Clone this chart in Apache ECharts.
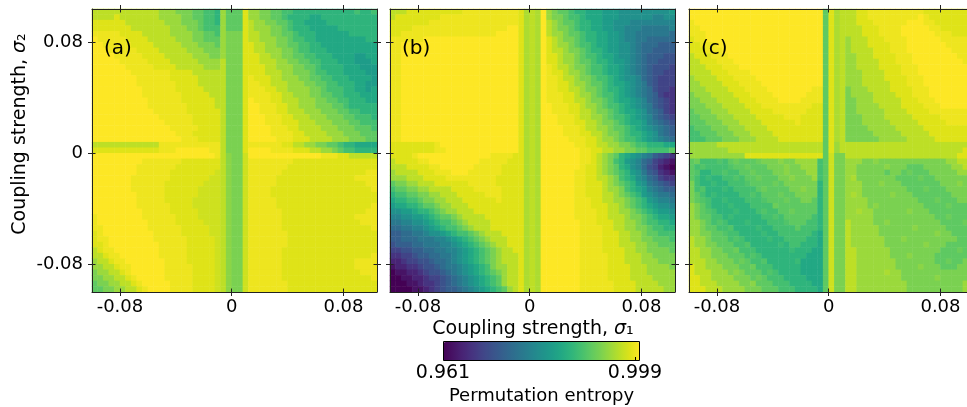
<!DOCTYPE html>
<html><head><meta charset="utf-8">
<script src="https://cdn.jsdelivr.net/npm/echarts@6/dist/echarts.min.js"></script>
<style>html,body{margin:0;padding:0;background:#fff}#chart{width:967px;height:407px}</style>
</head><body><div id="chart"></div>
<script>
// lower-edge value of each of the 51 cells (sigma step 0.004)
const sigmaCells = [-0.100,-0.096,-0.092,-0.088,-0.084,-0.080,-0.076,-0.072,-0.068,-0.064,-0.060,-0.056,-0.052,-0.048,-0.044,-0.040,-0.036,-0.032,-0.028,-0.024,-0.020,-0.016,-0.012,-0.008,-0.004,0.000,0.004,0.008,0.012,0.016,0.020,0.024,0.028,0.032,0.036,0.040,0.044,0.048,0.052,0.056,0.060,0.064,0.068,0.072,0.076,0.080,0.084,0.088,0.092,0.096,0.100];
const tickValues = [-0.08, 0, 0.08];
const colorMin = 0.961, colorMax = 1.0;
const colorbarTicks = ['0.961', '0.999'];
const panelLabels = ['(a)', '(b)', '(c)'];
// Permutation-entropy level per cell.
// letter A..U = 0.961 + 0.039*(i/20); lower case = half a step higher. Rows top (sigma2=0.1) to bottom.
const panelA = [
"SSSSS SSSSS SSRRR QQQPP OON RPPPT RRQQP POONN NNNNN NNNNO NNO",
"SSSST SSSSS SSRRR RQQPP OON RPPPT RRQQP PONNN NMMNN NNNNN NNN",
"TTTTT TSSSS SSSRR RQQQP OON RPPPT SRRQQ PPONN MMMMN NNNNN NNN",
"TTTTT TTSSS SSSSR RRQQP OOO RPPPT SRRRQ QPONN NMMMM MNNNN NNN",
"ttttt TTTTS SSSSR RRRQQ PPO RQQQT SSRRQ QPPON NNMMM MMMNN NNN",
"Utttt tTTTT SSSSS RRRQQ PPP RQQQT SSRRR QQPOO NNMMM MMMMM MNN",
"UUttt ttTTT TSSSS SRRRQ QQP RQQQT TSSRR QQPPO ONNMM MMMMM MMM",
"UUUtt tttTT TTSSS SSRRR QQQ RQQQT TSSRR RQQPO ONNNM MMMMM MMM",
"UUUUt ttttT TTTSS SSSRR RQQ RQQQT TTSSR RQQPP OONNN MMMML LMM",
"UUUUU ttttt TTTTS SSSSR RRR SQQQT TTSSS RRQQP POONN NMMML LLM",
"UUUUU Utttt tTTTT SSSSS RRR SQQQT TTTSS RRRQQ PPONN NNMMM LLL",
"UUUUU UUttt ttttT TTTSS SSS SQQQT TTTSS SRRQQ QPOON NNMMM MLL",
"UUUUU UUUtt ttttT TTTTS SSS SQQQT tTTTS SRRRQ QPPOO NNNMM MML",
"UUUUU UUUtt ttttt TTTTS SSS SQQQT ttTTS SSRRR QQPPO ONNNM MLL",
"UUUUU UUUUt ttttt TTTTT SSS SQQQT tttTT SSRRR RQQPO OONNM MLM",
"UUUUU UUUUt ttttt tTTTT TSS SQQQT ttttT TSSRR RQQPP OONNN MMM",
"UUUUU UUUUU ttttt tTTTT TTS SQQQT UtttT TSSSR RRQQP POONN NMM",
"UUUUU UUUUU ttttt ttTTT TTS SQQQT UUttt TTSSR RRQQQ PPONN NNN",
"UUUUU UUUUU Utttt ttTTT TTT SQQQT UUttt TTSSS RRRQQ QPPOO NNN",
"UUUUU UUUUU UUttt tttTT TTT SQQQT UUUtt tTTSS SRRRQ QQPPO OON",
"UUUUU UUUUU UUUtt tttTT TTT SQQQT UUUtt tTTTS SSRRR QQQPP OOO",
"UUUUU UUUUU UUUUt ttttT TTT SQQQT UUUUt ttTTS SSSRR RQQQP PPO",
"UUUUU UUUUU UUUUU tttTT TTT SQQQT UUUUt tttTT SSSSR RRQQQ PPP",
"UUUUU UUUUU UUUUU UtttT TTT SQQQT UUUUU tttTT TSSSS RRRQQ QPP",
"SSSSS SSSSS SSttt ttttt ttt SQQQT ttttt tTTSS RRQQP PONNM MMM",
"TTTTT TTTTT TTttt UUUUU Utt SQQQT UUUUt tttTT TSSRR QPOON NNN",
"UUUUU UUUUU UUUUU UUUUU UUt SqQQs UUUUU UUUUU UUUtt tTTSS SSS",
"UUUUU UUUUt ttttt tTTTT TTT SqQQs ttttt tttTT TTTTT TTTTT TTT",
"UUUUU UUUtt ttttt TTTTT TTT SqQQs ttttt ttTTT TTTTT TTTTT TTT",
"UUUUU UUUtt ttttT TTTTT TTs SqQQs ttttt tTTTT TTTTT TTTTT Ttt",
"UUUUU UUttt ttttT TTTTT Tss SqQQs ttttt TTTTT TTTTT TTTTt ttt",
"UUUUU UUttt tttTT TTTTT sss SqQQs ttttt TTTTT TTTTT TTTTT Ttt",
"UUUUU UUttt tttTT TTTTs sss SqQQs ttttT TTTTT TTTTT TTTTT TTt",
"UUUUU UUUtt tttTT TTTTs sss SqQQs ttttT TTTTT TTTTT TTTTT TTT",
"UUUUU UUUtt tttTT TTTss sss SqQQs ttttt TTTTT TTTTT TTTTT TTT",
"UUUUU UUUtt ttttT TTTss sss SqQQs ttttt TTTTT TTTTT TTTTT TTt",
"UUUUU UUUUt ttttT TTTTs sss SqQQs ttttt tTTTT TTTTT TTTTT Ttt",
"tUUUU UUUUt ttttt TTTTs sss SqQQs ttttt tTTTT TTTTT TTTTt ttt",
"tUUUU UUUUU ttttt TTTTT sss SqQQs ttttt tTTTT TTTTT TTTTT ttt",
"ttUUU UUUUU ttttt tTTTT Tss SqQQs ttttt tTTTT TTTTT TTTTT TTt",
"TtUUU UUUUU Utttt tTTTT Tss SqQQs ttttt ttTTT TTTTT TTTTT TTT",
"TttUU UUUUU Utttt ttTTT TTs SqQQs ttttt ttTTT TTTTT TTTTT TTT",
"TTtUU UUUUU UUttt ttTTT TTs SqQQs ttttt ttTTT TTTTT TTTTT TTT",
"STttU UUUUU UUttt ttTTT TTs SqQQs ttttt tTTTT TTTTT TTTTT TTT",
"SSTtt UUUUU UUttt ttTTT TTs SqQQs ttttt tTTTT TTTTT TTTTT TTt",
"RSSTt tUUUU UUUtt ttTTT TTs SqQQs ttttt tTTTT TTTTT TTTTt ttt",
"RRSST ttUUU UUUtt tttTT TTs SqQQs ttttt tTTTT TTTTT TTTTt ttt",
"QRRSS TtUUU UUUtt tttTT TTs SqQQs ttttt tTTTT TTTTT TTTTT ttt",
"QQRRS STtUU UUUtt tttTT TTs SqQQs ttttt tTTTT TTTTT TTTTT TTt",
"PQQRR SSTtU UUUUt tttTT TTs SqQQs ttttt ttTTT TTTTT TTTTT TTT",
"PPQQR RSSTt UUUUt tttTT TTs SqQQs ttttt ttTTT TTTTT TTTTT TTT"
];
const panelB = [
"SSSTT TTTTT TTTtt ttttt ttt TrSrU RQPP ONNM MMLL LKKK KKKK KKL",
"STTTT TTTTt ttttt ttttt ttt TrSrU RQQP OONM MMLL LKKK KKKJ JKK",
"TTTTT TTttt ttttt ttttt ttt TrSrU SRQP PONN MMLL KKKJ JJJJ JJJ",
"TTTTt ttttt ttttt ttttt tUU TrSrU SRQQ PONN MMLL KKJJ JIII IIJ",
"TTttt ttttt ttttt ttttU UUU TrSrU SRRQ PPON NMML LKJJ IIII IIH",
"ttttt tUUUU UUUUU UUUUU UUU TrSrU TSRQ QPON NMML LKJJ IIHH HHH",
"ttUUU UUUUU UUUUU UUUUU UUU TrSrU TSRR QPOO NMML LKKJ IHHH GGG",
"ttUUU UUUUU UUUUU UUUUU UUU TrSrU TSSR QQPO NNML LKKJ IHHG GGG",
"ttUUU UUUUU UUUUU UUUUU UUU TrSrU TTSR RQPO ONMM LKKJ IHGG GFF",
"ttUUU UUUUU UUUUU UUUUU UUU TrSrU TTSR RQPP ONNM LLKJ IHGG FFF",
"ttUUU UUUUU UUUUU UUUUU UUU TrSrU tTSS RQQP OONM MLKJ IHGF FFE",
"ttUUU UUUUU UUUUU UUUUU UUU TrSrU tTTS RRQP OONM MLKJ IHGF FEE",
"ttUUU UUUUU UUUUU UUUUU UUU TrSrU ttTS SRQQ POON MLKK JHGF EEE",
"ttUUU UUUUU UUUUU UUUUU UUU TrSrU ttTT SRRQ PPON MMLK JIGF EEE",
"ttUUU UUUUU UUUUU UUUUU UUU TrSrU ttTT SSRQ QPON NMLK JIHF EED",
"ttUUU UUUUU UUUUU UUUUU UUU TrSrU tttT TSRR QPOO NMLK JIHG EDD",
"ttUUU UUUUU UUUUU UUUUU UUU TrSrU tttT TSSR QQPO NMML KJHG FED",
"ttUUU UUUUU UUUUU UUUUU UUU TrSrU Uttt TTSR RQPO ONML KJIG FED",
"ttUUU UUUUU UUUUU UUUUU UUU TrSrU Uttt TTSS RQQP ONMM LKIH GED",
"ttUUU UUUUU UUUUU UUUUU UUU TrSrU UUtt tTSS RRQP OONM LKJH GFE",
"ttUUU UUUUU UUUUU UUUUU UUU TrSrU UUtt tTTS SRQQ PONM MLJI HGF",
"ttUUU UUUUU UUUUU UUUUU UUU TrSrU UUUt ttTS SRRQ PPON MLKJ IHG",
"ttUUU UUUUU UUUUU UUUUU UUU TrSrU UUUt ttTT SSRQ QPON NMLK IHG",
"ttUUU UUUUU UUUUU UUUUU UUU TrSrU UUUU tttT TSRR QPOO NMLK JIH",
"TTTTT TTTtU UUUUU UUUUU UUU TrSrU UUUU UttT TSSR RQQP OONN NMM",
"TTTTT TTTtt UUUUU UUUUU UUU TrSrU UUUU UUtt TTSS RRQQ PPOO OOP",
"TTTTt UUUUU UUUUU UUUtt ttT TrSrU UUUUUUtt TSRQ PNML KJIG FED",
"STTTT ttUUU UUUUU Utttt tTT TrSrU UUUUUUtt TSRQ ONLK JHGE DCB",
"SSSTT TTttU UUUUU ttttt TTT TrSrU UUUUUUtT TSRQ PNMK JHFE CBA",
"RSSSS TTTtt tUUUt ttttt TTT TrSrU UUUUUttT TSRQ PONL KIGF DCB",
"RRRSS STTTT ttttt ttttT TTT TrSrU UUUUUttT TSSR QONM KJHG EDD",
"PQQRR SSSTT TTTTt ttttT TTT TrSrU UUUUUttT TTSR QPON LKIH GFE",
"OPPQQ RRSSS STTTT ttttt TTT TrSrU UUUUUttT TTSR RQON MLJI HGG",
"NOOPP QQRRS SSTTT TTttt TTT TrSrU UUUUUttT TTSS RQPO NLKJ IIH",
"MNNOO PQQRR SSSTT TTTTt TTT TrSrU UUUUUttt TTSS RRQP ONLK JJI",
"LMMNN OPPQR RSSST TTTTT TTT TrSrU UUUUUttt TTTS SRQP ONML KKJ",
"KKLLM NNOPQ RRSSS TTTTT TTT TrSrU UUUUUttt tTTS SRRQ PONM LLK",
"JJKKL LMNOP PQRSS SSTTT TTT TrSrU UUUUUttt tTTS SSRQ QPON MML",
"IIJJK KLMNO OPQRS SSSTT TTT TrSrU UUUUUUtt tTTT SSRR QPOO NNM",
"HHIIJ JKLMN OOPQR SSSTT TTT TrSrU UUUUUUtt ttTT SSRR QQPO ONN",
"GGHHI IJKKL MNOOP QRSSS TTT TrSrU UUUUUUtt ttTT TSSR RQPP OOO",
"GGHHH IIIJJ KLMNO PQRSS STT TrSrU UUUUUUtt ttTT TSSR RQQP PPO",
"FGGGH HIIIJ JKLMN OPQRS STT TrSrU UUUUUUtt ttTT TSSS RRQQ PPP",
"EEFFG GHHII JJKLM NOPQR SST TrSrU UUUUUUtt ttTT TTSS RRQQ QQP",
"DDEEF GGHHI IJKLM NOPQR SSS TrSrU UUUUUUtt tttT TTSS SRRQ QQQ",
"CCDEE FFGHH IJKLM NOPQR SSS TrSrU UUUUUUtt tttT TTSS SRRR QQQ",
"BCCDD EFFGH IIJKL MNOQR RSS TrSrU UUUUUUtt tttT TTTS SSRR RRQ",
"ABBCC DEFFG HIJKL MNOPQ RSS TrSrU UUUUUUtt tttT TTTS SSRR RRR",
"AABBC CDEEF GHIJK LMNOP RSS TrSrU UUUUUUtt tttT TTTS SSSR RRR",
"AAABB CDDEF GHIJK LMNOP RSS TrSrU UUUUUUtt tttt TTTT SSSS RRR",
"AAAAB BCDEF GGHIJ KLMNO PRS TrSrU UUUUUUtt tttt TTTT SSSS SRR"
];
const panelC = [
"UUUUU UUUUU UUUUU UUUUU UUU UPTrS SSTT ttttt ttttt TTTTT TTTT",
"UUUUU UUUUU UUUUU UUUUU UUU UPTrS SSTT ttttt ttttU tTTTT TTTT",
"tUUUU UUUUU UUUUU UUUUU UUU UPTrS SSTT Ttttt ttUUU ttTTT TTTT",
"ttUUU UUUUU UUUUU UUUUU UUU UPTrS SSST TTttt tUUUU UttTT TTTT",
"tttUU UUUUU UUUUU UUUUU UUU UPTrS SSST TTttt tUUUU UUttt TTTT",
"TttUU UUUUU UUUUU UUUUU UUU UPTrS RSSS TTTtt ttUUU UUUtt tttT",
"TTttt UUUUU UUUUU UUUUU UUU UPTrS RSSS TTTTt ttUUU UUUUt tttt",
"TTTtt tUUUU UUUUU UUUUU UUU UPTrS RSSS STTTt ttUUU UUUUU tttt",
"STTTt ttUUU UUUUU UUUUU UUU UPTrS RRSS STTTT tttUU UUUUU Uttt",
"SSTTT tttUU UUUUU UUUUU UUU UPTrS RRSS SSTTT tttUU UUUUU UUtt",
"SSSTT TtttU UUUUU UUUUU UUU UPTrS RRSS SSTTT TtttU UUUUU UUUt",
"SSSST TTttt tUUUU UUUUU UUU UPTrS RRRS SSSTT TtttU UUUUU UUUU",
"RSSSS TTTtt ttUUU UUUUU UUU UPTrS RRRS SSSTT TTttt UUUUU UUUU",
"RRSSS STTTt tttUU UUUUU UUU UPTrS RRRS SSSST TTttt UUUUU UUUU",
"RRRSS SSTTT ttttU UUUUU UUt tPTrS QRRR SSSST TTTtt tUUUU UUUU",
"QRRRS SSSTT Ttttt UUUUU Utt tPTrS QRRR RSSSS TTTtt tUUUU UUUU",
"QQRRR SSSST TTttt tUUUU ttt tPTrS QQRR RSSSS STTTt ttUUU UUUU",
"QQQRR RSSSS TTTtt ttttt ttT TPTrS QQRR RRSSS STTTT tttUU UUUt",
"PQQQR RRSSS STTTT ttttt tTT TPTrS QQRR RRRSS SSTTT Ttttt tttt",
"PPQQQ RRRSS SSTTT TTttt TTT TPTrS QQQR RRRSS SSSTT TTTtt tttt",
"PPPQQ QRRRS SSSTT TTTTt TTT TPTrS QQQR RRRRS SSSST TTTTt tttT",
"OPPPQ QQRRR SSSST TTTTT TTT TPTrS QQQQ RRRRR SSSSS TTTTT TTTT",
"OOPPP QQQRR RSSSS TTTTT TTT TPTrS QQQQ QRRRR RSSSS STTTT TTTT",
"OOOPP PQQQR RRSSS STTTT TTT TPTrS QQQQ QQRRR RRSSS SSTTT TTTT",
"RRRRR SSSSS SSSSS SSSSS SSS SPTRS SSSS SSSSS SSSSS SSSSS SSST",
"RRRRR RRSSS SSSSS SSSSS SSS SPTRS SSSS SSSSS SSSSS SSSSS SSTT",
"RRRRR RRRRR TTTTT TTTTT TTT TPsQQ SSSS SSSSS SSSSS SSSSS STTT",
"PpOOO oOPpP PPpQQ QqQQR RRR OPsQQ RRRQ QqQQQ QQQQQ QQQQR RSST",
"POoOO OOoPP pPPPQ QQqQQ RRR OPsQQ RRQQ QQQqQ QQPPP QQQQQ RRSS",
"PoNNO OoOOP PpPPP QQqQQ QRR OPsQQ RRQQ QQQPQ QPpPP PQQQQ QRRR",
"PONnN NOOoO PPpPP PQQqQ QQR OPsQQ RrQQ QQQQQ PPPPp PPQQQ QQQR",
"QONNn NNOOO oPPPP pPQQQ QQQ NPsQQ RRRQ QQqQQ QPPPP PPPQQ QqQQ",
"QOoNN NnNOO OOPpP PPPQQ qQQ NPsQQ RRRQ QQQQQ QQPPP pPPPQ QQQQ",
"QPONn NNNNO OoOPP PpPPQ QQQ NPsQQ RrRQ QQQQq QQQPP PPPPP QQQq",
"QPoON NnNNN OOOoP PPpPP QQP NPsQQ RRRR QQQQQ QQQQP PPpPP PQQQ",
"RQPON NNnNN NOOOO pPPPP PPP NPsQQ RRRR QqQQQ QQQQQ PPPPp PPPQ",
"RQPoO NNNnN NNOoO OPPpP PPP NPsQQ RRrR RQQQQ QQqQQ QPPPP PPPP",
"RQPPO ONnNN NNNOO oOPPP PPO NPsQQ RRRR RQQQQ QQQQQ QQPPp PPPP",
"RRQPO oONNN nNNNO OOoPP POO NPsQQ SRRR RQQqQ QQQQQ QQQPP PPpP",
"RRQPP OOoNN NNnNN OOOOP OOO NPsQQ SRRR RRQQQ QQQqQ QQQQP PPPP",
"RRQQP PoOON NNNnN NOOOO OON MPsQQ SRRR RRQQQ QQQQQ QQqQQ PPPP",
"SRRQP PPOoO NNNNn NNOOO ONN MPsQQ SRRR RRRQQ QqQQQ QQQQQ QPPP",
"SRRQQ PPPOO oNNNN NnNOO NNN MPsQQ SRRR RRRQQ QQQQQ qQQQP PPPP",
"SSRRQ QPPpO OONNN NNNnN NNM MPsQQ SSRR RRRRQ QQQQQ QQQPP PpPP",
"SSRRQ QQPPP OoONN NNNNN NMM MPsQQ SSRR RRRRQ QQqQQ QQPPP PPPQ",
"SSSRR QQQPp POOoN NNNNn MMM MPsQQ SSRR RRRRR QQQQQ QQPPp PPQQ",
"TSSRR RQQQP PpOOO NNNNN MMM MPsQQ SSRR RRRRR QQQQq QQQPP PQQQ",
"TSSSR RRQqQ PPPOo ONNNN MMM MPsQQ SSRR RRRrR RQQQQ QQQQQ QQQQ",
"TTSSR RRRQQ QPpPO OONNN NMM MPsQQ SSRR RRRRR RQQQQ QQqQQ QQQR",
"TTSSS RRRRQ QqPPP OOONN NNM MPsQQ SSRR RRRRR RRQQQ QQQQQ QQRR",
"TTTSS SRRRR QQQPP POOON NNN MPsQQ SSRR RRRRR RRQQQ QQQQQ QQRR"
];
const viridis = ['#440154','#471365','#482475','#463480','#414487','#3b528b','#355f8d','#2f6c8e','#2a788e','#25848e','#21918c','#1e9c89','#22a884','#2fb47c','#44bf70','#5ec962','#7ad151','#9bd93c','#bddf26','#dfe318','#fde725'];

const LETTERS = 'ABCDEFGHIJKLMNOPQRSTU';
function decode(rows) {
  const out = [];
  const n = rows.length;
  rows.forEach((row, k) => {
    const s = row.replace(/\s+/g, '');
    if (s.length !== 51) console.warn('row', k, 'length', s.length);
    for (let c = 0; c < s.length; c++) {
      const ch = s[c];
      const up = ch.toUpperCase();
      const t = (LETTERS.indexOf(up) + (ch !== up ? 0.5 : 0)) / 20;
      out.push([c, n - 1 - k, +(colorMin + (colorMax - colorMin) * t).toFixed(5)]);
    }
  });
  return out;
}
const panels = [panelA, panelB, panelC];
const lefts = [92, 390, 689];
const FONT = 'DejaVu Sans';
const fmt = v => (Math.abs(v) < 1e-9 ? '0' : v.toFixed(2));

function valAxis(gi, pos, inside, line, label) {
  return {
    type: 'value', gridIndex: gi, position: pos, min: -0.1, max: 0.104, z: 10,
    axisLine: { show: line, onZero: false, lineStyle: { color: '#222', width: 1 } },
    axisTick: { show: true, inside: inside, length: inside ? 3.5 : 4, customValues: tickValues, lineStyle: { color: '#222', width: 1 } },
    axisLabel: label ? Object.assign({ show: true, customValues: tickValues, formatter: fmt, fontSize: 18, fontFamily: FONT, color: '#000' }, label) : { show: false },
    splitLine: { show: false }, axisPointer: { show: false }
  };
}

const grid = [], xAxis = [], yAxis = [], series = [], graphic = [];
panels.forEach((rows, i) => {
  grid.push({ left: lefts[i], top: 9, width: 285, height: 283, containLabel: false, outerBoundsMode: 'none', show: false });
  xAxis.push({ type: 'category', gridIndex: i, data: sigmaCells.map(String), show: false });
  xAxis.push(valAxis(i, 'bottom', true, true, null));
  xAxis.push(valAxis(i, 'bottom', false, false, { margin: 6 }));
  xAxis.push(valAxis(i, 'top', true, true, null));
  xAxis.push(valAxis(i, 'top', false, false, null));
  yAxis.push({ type: 'category', gridIndex: i, data: sigmaCells.map(String), show: false });
  yAxis.push(valAxis(i, 'left', true, true, null));
  yAxis.push(valAxis(i, 'left', false, false, i === 0 ? { margin: 9 } : null));
  yAxis.push(valAxis(i, 'right', true, true, null));
  yAxis.push(valAxis(i, 'right', false, false, null));
  series.push({
    type: 'heatmap', xAxisIndex: i * 5, yAxisIndex: i * 5, data: decode(rows),
    progressive: 0, itemStyle: { borderWidth: 0 }, emphasis: { disabled: true }, silent: true
  });
  graphic.push({ type: 'text', x: lefts[i] + 12, y: 48.5, z: 100,
    style: { text: panelLabels[i], fontSize: 20, fontFamily: FONT, fill: '#000', align: 'left', verticalAlign: 'middle', textAlign: 'left', textVerticalAlign: 'middle' } });
});

const richTitle = { t: { fontSize: 19, fontFamily: FONT, fill: '#000', color: '#000' }, s: { fontSize: 19, fontFamily: FONT, fontStyle: 'italic', fill: '#000', color: '#000' } };
graphic.push({ type: 'text', x: 533, y: 329.5, z: 100,
  style: { text: '{t|Coupling strength, }{s|σ}{t|₁}', rich: richTitle, align: 'center', verticalAlign: 'middle', textAlign: 'center', textVerticalAlign: 'middle' } });
graphic.push({ type: 'text', x: 20, y: 134, rotation: Math.PI / 2, z: 100,
  style: { text: '{t|Coupling strength, }{s|σ}{t|₂}', rich: richTitle, align: 'center', verticalAlign: 'middle', textAlign: 'center', textVerticalAlign: 'middle' } });
graphic.push({ type: 'rect', z: 100, shape: { x: 443.5, y: 341.5, width: 196, height: 19 }, style: { fill: null, stroke: '#000', lineWidth: 1 } });
graphic.push({ type: 'line', z: 100, shape: { x1: 635.5, y1: 357, x2: 635.5, y2: 361 }, style: { stroke: '#000', lineWidth: 1 } });
graphic.push({ type: 'text', x: 443, y: 373.5, z: 100, style: { text: colorbarTicks[0], fontSize: 19, fontFamily: FONT, fill: '#000', align: 'center', verticalAlign: 'middle', textAlign: 'center', textVerticalAlign: 'middle' } });
graphic.push({ type: 'text', x: 635, y: 373.5, z: 100, style: { text: colorbarTicks[1], fontSize: 19, fontFamily: FONT, fill: '#000', align: 'center', verticalAlign: 'middle', textAlign: 'center', textVerticalAlign: 'middle' } });
graphic.push({ type: 'text', x: 541.5, y: 396.5, z: 100, style: { text: 'Permutation entropy', fontSize: 18, fontFamily: FONT, fill: '#000', align: 'center', verticalAlign: 'middle', textAlign: 'center', textVerticalAlign: 'middle' } });

const chart = echarts.init(document.getElementById('chart'), null, { renderer: 'canvas' });
chart.setOption({
  animation: false,
  backgroundColor: '#fff',
  grid, xAxis, yAxis, series, graphic,
  visualMap: {
    type: 'continuous', show: true, min: colorMin, max: colorMax, seriesIndex: [0, 1, 2], dimension: 2,
    inRange: { color: viridis }, orient: 'horizontal', left: 443, top: 342, itemWidth: 19, itemHeight: 197,
    calculable: false, realtime: false, hoverLink: false, padding: 0, text: null, showLabel: false
  }
});
</script></body></html>
